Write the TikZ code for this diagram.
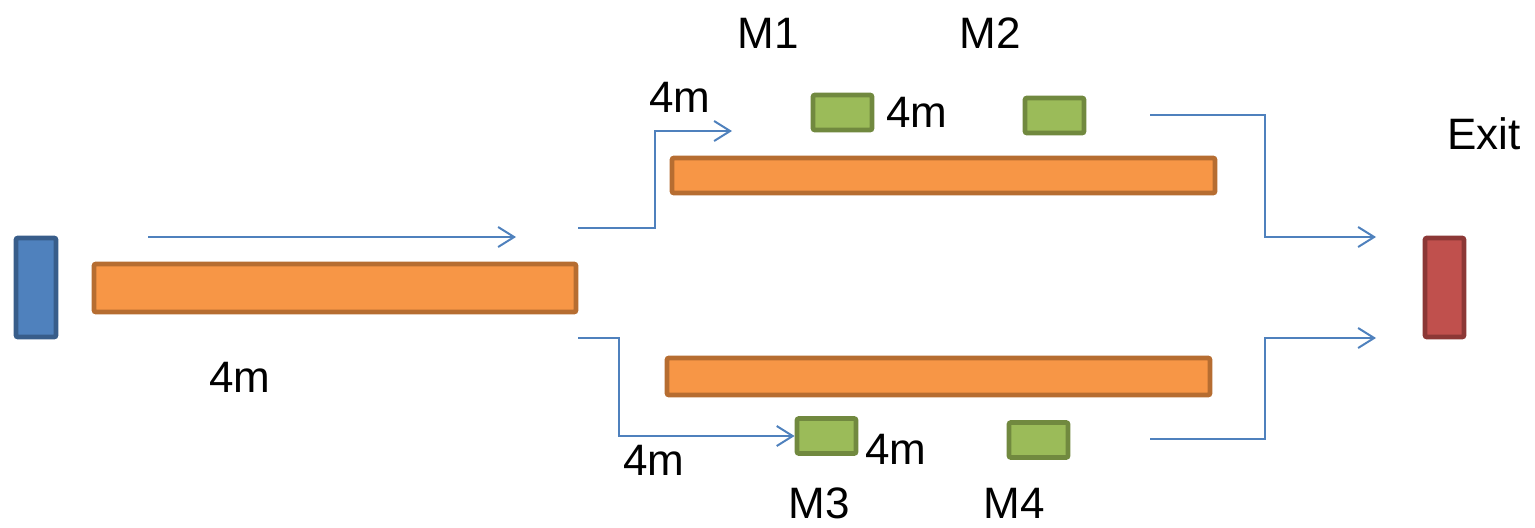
\documentclass[tikz,border=0pt]{standalone}
\usepackage{fontspec}
\setmainfont{Liberation Sans}
\usetikzlibrary{arrows.meta}
\definecolor{bluefill}{HTML}{4F81BD}
\definecolor{blueline}{HTML}{385D8A}
\definecolor{orfill}{HTML}{F79646}
\definecolor{orline}{HTML}{B66D31}
\definecolor{grfill}{HTML}{9BBB59}
\definecolor{grline}{HTML}{71893F}
\definecolor{rdfill}{HTML}{C0504D}
\definecolor{rdline}{HTML}{8C3836}
\definecolor{arrowc}{HTML}{4F81BD}
\tikzset{
  box/.style={rectangle, inner sep=0pt, line width=2.4pt, rounded corners=1pt},
  bluebox/.style={box, fill=bluefill, draw=blueline, minimum width=20pt, minimum height=49.5pt},
  redbox/.style={box, fill=rdfill, draw=rdline, minimum width=19.5pt, minimum height=49.5pt},
  orbox/.style={box, fill=orfill, draw=orline},
  grbox/.style={box, fill=grfill, draw=grline, minimum width=29.5pt, minimum height=17.5pt},
  flow/.style={draw=arrowc, line width=1pt, -{Straight Barb[length=8pt,width=10pt,line width=1pt]}},
  lbl/.style={font=\fontsize{22}{26}\selectfont, inner sep=0pt}
}
\begin{document}
\begin{tikzpicture}[x=0.5pt,y=-0.5pt]
\useasboundingbox (0,0) rectangle (1535,527);
% boxes
\node[bluebox] (start) at (36,287.5) {};
\node[redbox] (exit) at (1444.5,287.5) {};
\node[orbox, minimum width=241pt, minimum height=24pt] (main) at (335,288) {};
\node[orbox, minimum width=271.5pt, minimum height=17.5pt] (up) at (943.5,175.5) {};
\node[orbox, minimum width=271.5pt, minimum height=18.5pt] (low) at (938.5,376.5) {};
\node[grbox] (m1) at (842.5,112.5) {};
\node[grbox] (m2) at (1054.5,115.5) {};
\node[grbox] (m3) at (826.5,436) {};
\node[grbox] (m4) at (1038.5,440) {};
% coordinates
\coordinate (a0) at (148,237);
\coordinate (a1) at (516,237);
\coordinate (b0) at (578,228);
\coordinate (b1) at (732,131);
\coordinate (c0) at (578,338);
\coordinate (d0) at (1150,115);
\coordinate (d1) at (1376,237);
\coordinate (e0) at (1150,439);
\coordinate (e1) at (1376,338);
% arrows
\draw[flow] (a0) -- (a1);
\draw[flow] (b0) -- (655,228) |- (b1);
\draw[flow] (c0) -- (619,338) |- (m3.west);
\draw[flow] (d0) -- (1265,115) |- (d1);
\draw[flow] (e0) -- (1265,439) |- (e1);
% labels
\node[lbl] (t1) at (768,33) {M1};
\node[lbl] (t2) at (990,33) {M2};
\node[lbl] (t3) at (680,97) {4m};
\node[lbl] (t4) at (917,112) {4m};
\node[lbl] (t5) at (1484,134) {Exit};
\node[lbl] (t6) at (240,377) {4m};
\node[lbl] (t7) at (654,460) {4m};
\node[lbl] (t8) at (896,449) {4m};
\node[lbl] (t9) at (819,503) {M3};
\node[lbl] (t10) at (1014,503) {M4};
\end{tikzpicture}
\end{document}
